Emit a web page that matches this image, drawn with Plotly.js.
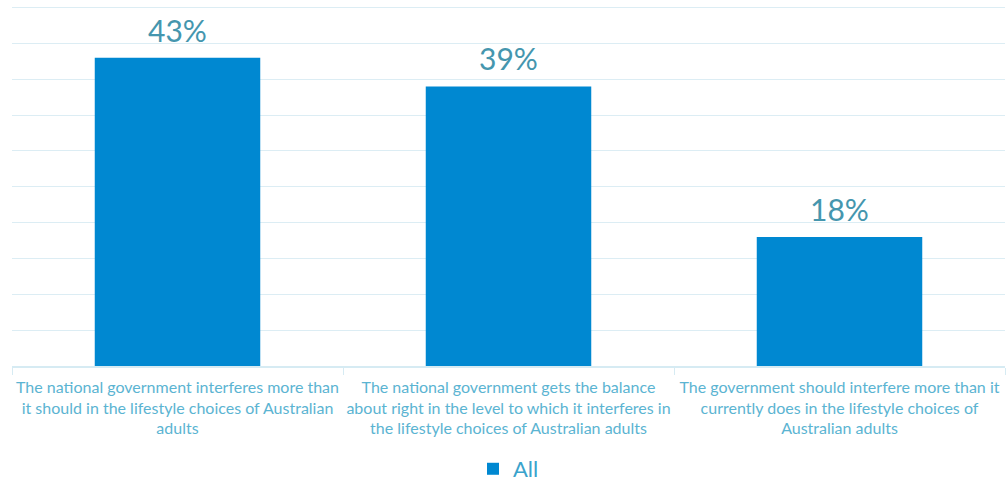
<!DOCTYPE html>
<html><head><meta charset="utf-8">
<script src="https://cdn.plot.ly/plotly-3.0.1.min.js"></script>
<style>html,body{margin:0;padding:0;background:#fff}#chart{width:1006px;height:481px}</style>
</head><body><div id="chart"></div>
<script>
const categories = [
  "The national government interferes more than<br>it should in the lifestyle choices of Australian<br>adults",
  "The national government gets the balance<br>about right in the level to which it interferes in<br>the lifestyle choices of Australian adults",
  "The government should interfere more than it<br>currently does in the lifestyle choices of<br>Australian adults"
];
const values = [43, 39, 18];
const labels = values.map(v => v + "%");
const seriesName = "All";

const annotations = values.map((v, i) => ({
  x: categories[i], y: v, xref: "x", yref: "y",
  text: labels[i], showarrow: false, yanchor: "bottom", yshift: 8,
  font: {family: "Lato, 'Open Sans', sans-serif", size: 30, color: "#4596ae"}
}));

Plotly.newPlot("chart", [{
  type: "bar",
  x: categories,
  y: values,
  name: seriesName,
  marker: {color: "#0088d1"},
  showlegend: true
}], {
  width: 1006, height: 481,
  margin: {l: 12, r: 1, t: 4, b: 115},
  paper_bgcolor: "#fff", plot_bgcolor: "#fff",
  bargap: 0.5,
  font: {family: "Lato, 'Open Sans', sans-serif", color: "#5bb4d2"},
  annotations: annotations,
  xaxis: {
    automargin: false,
    showline: true, linecolor: "#d6ebf3", linewidth: 1.5,
    ticks: "outside", tickson: "boundaries", ticklen: 7, tickcolor: "#d6ebf3",
    ticklabelstandoff: 6,
    tickfont: {size: 16, color: "#5bb4d2"}, tickangle: 0,
    showgrid: false
  },
  yaxis: {
    automargin: false,
    range: [0, 50.5], tick0: 0, dtick: 5, showticklabels: false,
    gridcolor: "#dcedf4", gridwidth: 1, zeroline: false, fixedrange: true
  },
  legend: {
    orientation: "h", x: 0.5, xanchor: "center", xref: "paper",
    yref: "container", y: 0.025, yanchor: "middle",
    font: {size: 22, color: "#3aa3cc"}
  }
}, {displayModeBar: false, staticPlot: true});
</script>
</body></html>
